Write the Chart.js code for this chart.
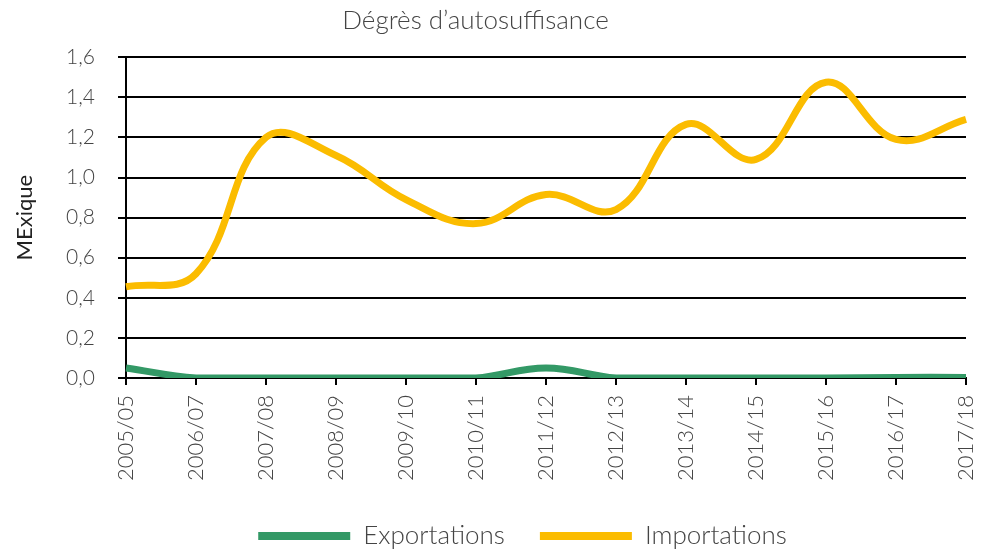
<!DOCTYPE html>
<html>
<head>
<meta charset="utf-8">
<script src="https://cdn.jsdelivr.net/npm/chart.js@4"></script>
<style>
    html, body { margin: 0; padding: 0; background: #fff; }
    #wrap { width: 981px; height: 552px; }
</style>
</head>
<body>
<div id="wrap"><canvas id="autoChart"></canvas></div>
<script>
// Données
const campagnes = ['2005/05', '2006/07', '2007/08', '2008/09', '2009/10', '2010/11', '2011/12',
                   '2012/13', '2013/14', '2014/15', '2015/16', '2016/17', '2017/18'];
const exportations = [0.05, 0.0, 0.0, 0.0, 0.0, 0.0, 0.05, 0.0, 0.0, 0.0, 0.0, 0.003, 0.003];
const importations = [0.455, 0.52, 1.2, 1.11, 0.89, 0.77, 0.915, 0.84, 1.265, 1.09, 1.475, 1.19, 1.29];

const VERT = '#339966';
const JAUNE = '#fbbc00';
const FONT = 'Lato';

// décale titre et légende comme dans l'original
const shiftPlugin = {
    id: 'shiftBlocks',
    afterLayout(chart) {
        if (chart.legend) {
            chart.legend.left += 32; chart.legend.right += 32;
            chart.legend.top += 7; chart.legend.bottom += 7;
        }
        if (chart.titleBlock) { chart.titleBlock.left -= 15; chart.titleBlock.right -= 15; }
    }
};

new Chart(document.getElementById('autoChart'), {
    type: 'line',
    data: {
        labels: campagnes,
        datasets: [
            {
                label: 'Exportations',
                data: exportations,
                borderColor: VERT,
                backgroundColor: VERT,
                borderWidth: 7,
                tension: 0.4,
                pointRadius: 0
            },
            {
                label: 'Importations',
                data: importations,
                borderColor: JAUNE,
                backgroundColor: JAUNE,
                borderWidth: 7,
                tension: 0.4,
                pointRadius: 0
            }
        ]
    },
    options: {
        responsive: true,
        maintainAspectRatio: false,
        animation: false,
        layout: { padding: { left: 0, right: 0, top: 0, bottom: 0 } },
        plugins: {
            title: {
                display: true,
                text: 'Dégrès d\u2019autosuffisance',
                color: '#444',
                font: { family: FONT, size: 26, weight: '300' },
                padding: { top: 5, bottom: 21 }
            },
            legend: {
                position: 'bottom',
                labels: {
                    color: '#444',
                    font: { family: FONT, size: 26, weight: '300' },
                    boxWidth: 92,
                    boxHeight: 8,
                    padding: 35,
                    generateLabels: function(chart) {
                        const items = Chart.defaults.plugins.legend.labels.generateLabels(chart);
                        items.forEach(it => { it.lineWidth = 0; });
                        return items;
                    }
                }
            },
            tooltip: { enabled: false }
        },
        scales: {
            x: {
                offset: false,
                border: { display: true, color: '#000', width: 2 },
                grid: { drawOnChartArea: false, drawTicks: true, tickLength: 7, color: '#000', lineWidth: 2 },
                ticks: {
                    color: '#444',
                    font: { family: FONT, size: 22, weight: '300' },
                    minRotation: 90,
                    maxRotation: 90,
                    padding: 10,
                    autoSkip: false
                },
                afterFit: function(scale) {
                    scale.height = 103;
                    scale.paddingLeft = 0;
                    scale.paddingRight = 15;
                }
            },
            y: {
                min: 0,
                max: 1.6,
                border: { display: true, color: '#000', width: 2 },
                grid: { color: '#000', lineWidth: 2, tickLength: 8 },
                ticks: {
                    stepSize: 0.2,
                    color: '#444',
                    padding: 23,
                    font: { family: FONT, size: 21, weight: '300' },
                    callback: function(value) { return value.toFixed(1).replace('.', ','); }
                },
                title: {
                    display: true,
                    text: 'MExique',
                    color: '#222',
                    font: { family: FONT, size: 22, weight: '400' },
                    padding: { top: 12, bottom: 0 }
                },
                afterFit: function(scale) { scale.width = 126; }
            }
        }
    },
    plugins: [shiftPlugin]
});
</script>
</body>
</html>
